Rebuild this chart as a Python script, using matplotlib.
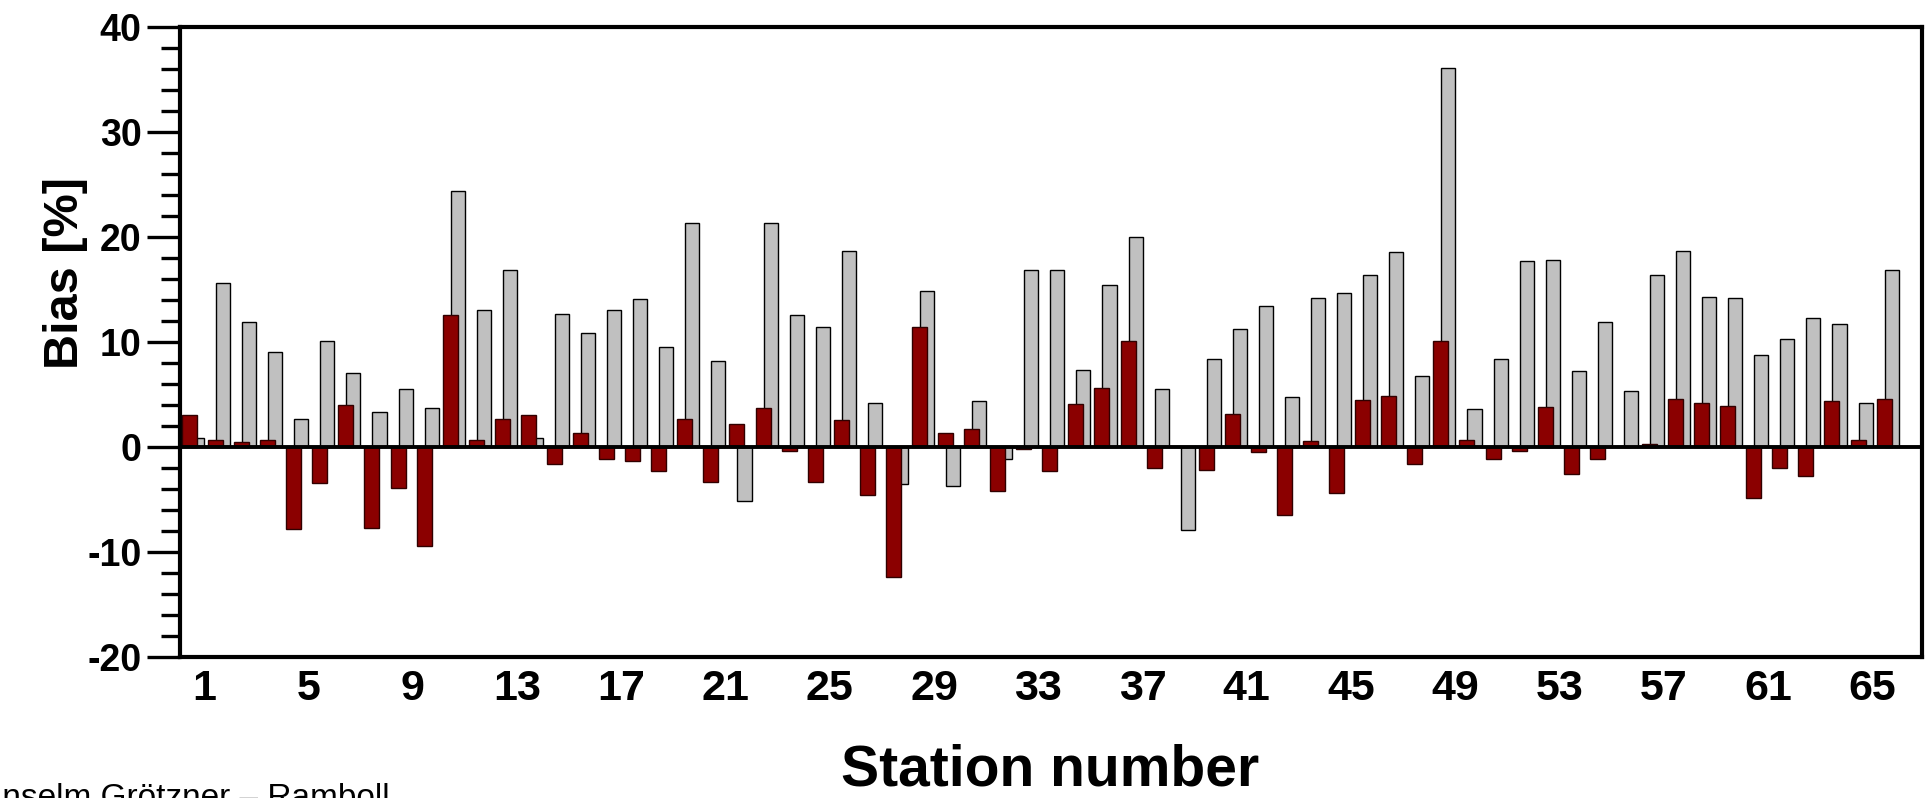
import numpy as np
import matplotlib
matplotlib.use('Agg')
import matplotlib.pyplot as plt
from matplotlib.ticker import MultipleLocator

# station numbers and bias values [%]
stations = np.arange(1, 67)
bias_red = [3.0, 0.7, 0.5, 0.7, -7.8, -3.4, 4.0, -7.7, -3.9, -9.4,
            12.6, 0.7, 2.7, 3.0, -1.6, 1.3, -1.1, -1.3, -2.3, 2.7,
            -3.3, 2.2, 3.7, -0.4, -3.3, 2.6, -4.6, -12.4, 11.4, 1.3,
            1.7, -4.2, -0.2, -2.3, 4.1, 5.6, 10.1, -2.0, 0.0, -2.2,
            3.1, -0.5, -6.5, 0.6, -4.4, 4.5, 4.9, -1.6, 10.1, 0.7,
            -1.1, -0.4, 3.8, -2.6, -1.1, 0.0, 0.3, 4.6, 4.2, 3.9,
            -4.9, -2.0, -2.8, 4.4, 0.7, 4.6]
bias_grey = [0.9, 15.6, 11.9, 9.0, 2.7, 10.1, 7.0, 3.3, 5.5, 3.7,
             24.4, 13.0, 16.9, 0.9, 12.7, 10.9, 13.0, 14.1, 9.5, 21.3,
             8.2, -5.1, 21.3, 12.6, 11.4, 18.7, 4.2, -3.5, 14.9, -3.7,
             4.4, -1.1, 16.9, 16.9, 7.3, 15.4, 20.0, 5.5, -7.9, 8.4,
             11.2, 13.4, 4.8, 14.2, 14.7, 16.4, 18.6, 6.8, 36.1, 3.6,
             8.4, 17.7, 17.8, 7.2, 11.9, 5.3, 16.4, 18.7, 14.3, 14.2,
             8.8, 10.3, 12.3, 11.7, 4.2, 16.9]
tick_labels = [str(s) for s in range(1, 66, 4)]

plt.rcParams['font.family'] = ['Liberation Sans', 'DejaVu Sans']
plt.rcParams['axes.unicode_minus'] = False

fig = plt.figure(figsize=(19.26, 7.98), dpi=100)
ax = fig.add_axes([0.0937, 0.1767, 0.9043, 0.7895])

# grey bars behind, red bars in front, slightly shifted
ax.bar(stations + 0.29, bias_grey, width=0.54, color='#c0c0c0',
       edgecolor='black', linewidth=1.0, zorder=2)
ax.bar(stations, bias_red, width=0.575, color='#8b0000',
       edgecolor='#300000', linewidth=1.0, zorder=3)
ax.axhline(0, color='black', linewidth=2.8, zorder=4)

ax.set_xlim(0.655, 67.46)
ax.set_ylim(-20, 40)

ax.set_xticks(np.arange(1, 66, 4) + 0.556)
ax.set_xticklabels(tick_labels, fontsize=31, fontweight='bold')
ax.tick_params(axis='x', length=0, pad=9)

ax.yaxis.set_major_locator(MultipleLocator(10))
ax.yaxis.set_minor_locator(MultipleLocator(2))
ax.tick_params(axis='y', which='major', length=24, width=2.4, pad=4,
               labelsize=27)
ax.tick_params(axis='y', which='minor', length=14, width=2.4)
for lab in ax.get_yticklabels():
    lab.set_fontweight('bold')

for sp in ax.spines.values():
    sp.set_linewidth(3)

ax.text(-0.066, 0.61, 'Bias [%]', transform=ax.transAxes, rotation=90,
        ha='center', va='center', fontsize=35, fontweight='bold')
fig.text(0.545, 0.001, 'Station number', ha='center', va='bottom',
         fontsize=41, fontweight='bold')
fig.text(-0.0105, -0.011, 'Anselm Grötzner – Ramboll', ha='left',
         va='baseline', fontsize=24)

fig.savefig('out.png', dpi=100)
